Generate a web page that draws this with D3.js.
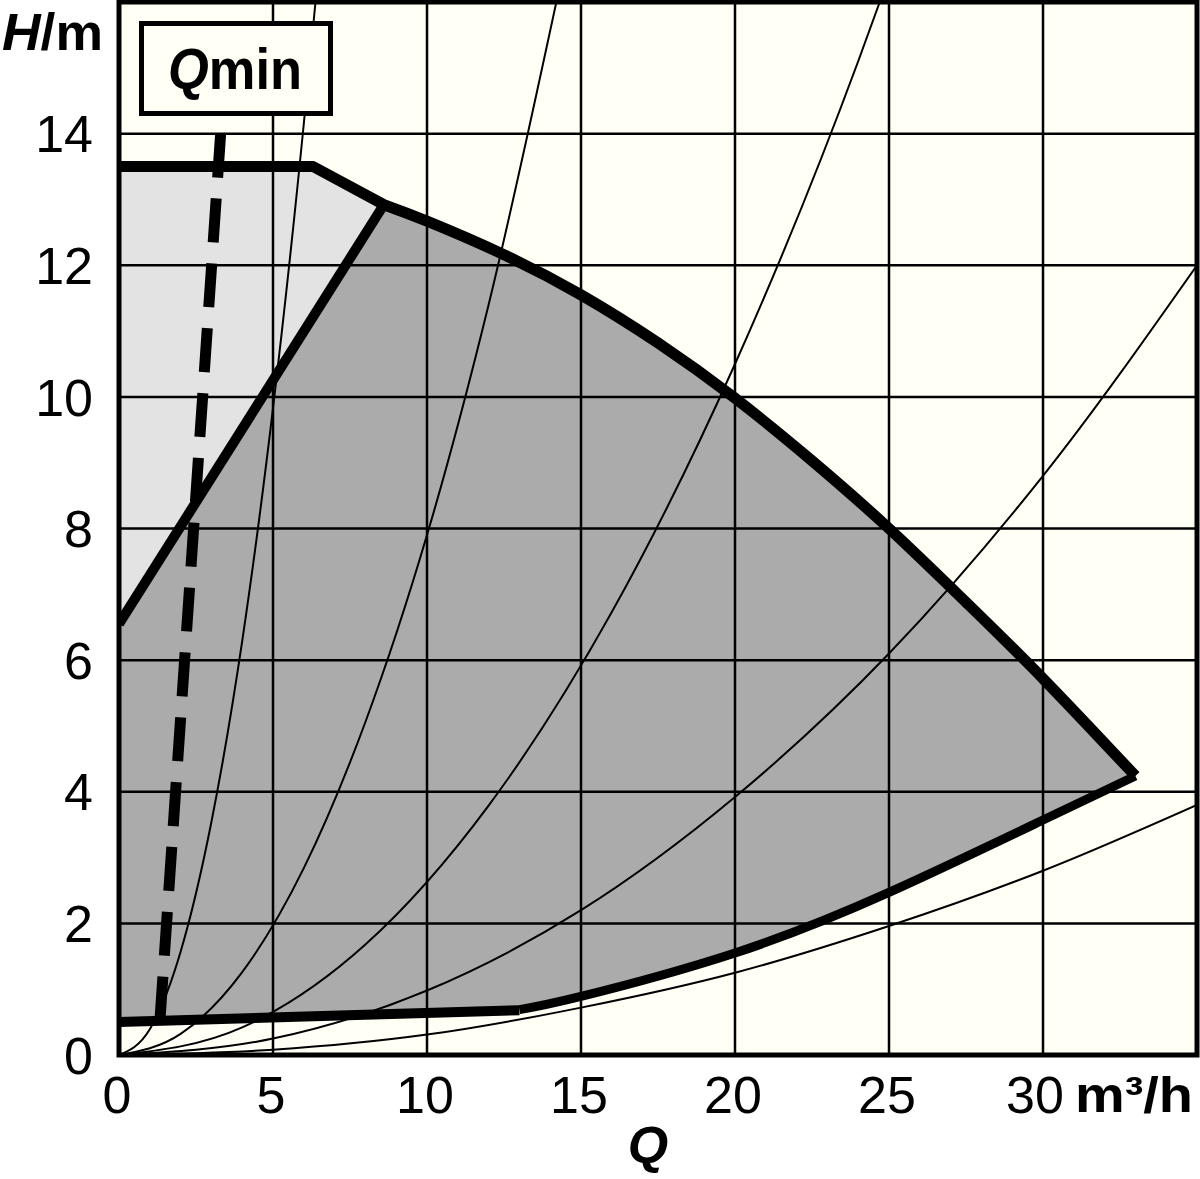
<!DOCTYPE html>
<html>
<head>
<meta charset="utf-8">
<script src="https://cdn.jsdelivr.net/npm/d3@7"></script>
<style>
html,body{margin:0;padding:0;background:#fff;}
svg{display:block;}
text{font-family:"Liberation Sans","DejaVu Sans",sans-serif;fill:#000;}
</style>
</head>
<body>
<svg id="chart" width="1200" height="1179"></svg>
<script>
// ---- data ----
const qTicks = [0, 5, 10, 15, 20, 25, 30];
const hTicks = [0, 2, 4, 6, 8, 10, 12, 14];
const qGrid = [5, 10, 15, 20, 25, 30];
const hGrid = [2, 4, 6, 8, 10, 12, 14];

// system (pipe) curves
const sysA_Q = [0, 1, 2, 3, 4, 5, 6, 6.38];
const sysA_H = [0, 0.39, 1.57, 3.54, 6.29, 9.83, 14.15, 16];
const sysB_Q = [0, 2, 4, 6, 8, 10, 12, 14.2];
const sysB_H = [0, 0.32, 1.26, 2.84, 5.06, 7.9, 11.4, 16];
const sysC_Q = [0, 4, 8, 12, 16, 20, 24, 24.7];
const sysC_H = [0, 0.42, 1.68, 3.79, 6.73, 10.5, 15.1, 16];
const sysD_Q = [0, 5, 10, 15, 20, 25, 30, 35];
const sysD_H = [0, 0.25, 0.98, 2.2, 3.92, 6.1, 8.8, 12.0];
const sysE_Q = [0, 5, 10, 15, 20, 25, 30, 35];
const sysE_H = [0, 0.08, 0.31, 0.72, 1.25, 1.96, 2.8, 3.8];

// operating field boundaries
const topQ = [0, 6.3, 8.6];
const topH = [13.5, 13.5, 12.92];
const diagQ = [0, 8.6];
const diagH = [6.55, 12.92];
const maxQ = [8.6, 10, 12.5, 15, 17.5, 20, 22.5, 25, 27.5, 30, 33];
const maxH = [12.92, 12.67, 12.16, 11.55, 10.82, 9.98, 9.03, 8.0, 6.88, 5.72, 4.24];
const lowQ = [13, 15, 20, 25, 30, 33];
const lowH = [0.69, 0.89, 1.55, 2.47, 3.57, 4.24];
const flatQ = [0, 13];
const flatH = [0.5, 0.68];
const qminQ = [3.3, 1.3];
const qminH = [14.0, 0.33];

const zip = (a, b) => a.map((v, i) => [v, b[i]]);

// ---- layout ----
const svg = d3.select("#chart");
const x = d3.scaleLinear().domain([0, 35]).range([119, 1197]);
const y = d3.scaleLinear().domain([0, 16]).range([1055, 2]);

const cream = "#fffff6";
const light = "#e3e3e3";
const dark = "#ababab";

const nat = d3.curveNatural;
const lineGen = (curve) => d3.line().x(d => x(d[0])).y(d => y(d[1])).curve(curve);

svg.append("defs").append("clipPath").attr("id", "plotclip")
  .append("rect").attr("x", x(0)).attr("y", y(16)).attr("width", x(35) - x(0)).attr("height", y(0) - y(16));

svg.append("rect").attr("x", x(0)).attr("y", y(16)).attr("width", x(35) - x(0)).attr("height", y(0) - y(16)).attr("fill", cream);

const plot = svg.append("g").attr("clip-path", "url(#plotclip)");

// light gray region
const lightPts = [[0, diagH[0]], [0, topH[0]], [topQ[1], topH[1]], [topQ[2], topH[2]]];
plot.append("path").attr("d", lineGen(d3.curveLinearClosed)(lightPts)).attr("fill", light);

// dark gray region
const maxPts = zip(maxQ, maxH);
const lowPts = zip(lowQ, lowH).slice().reverse();
const darkD =
  lineGen(d3.curveLinear)([[flatQ[0], flatH[0]], [diagQ[0], diagH[0]], [diagQ[1], diagH[1]]]) +
  lineGen(nat)(maxPts).replace(/^M/, "L") +
  lineGen(nat)(lowPts).replace(/^M/, "L") +
  lineGen(d3.curveLinear)([[flatQ[1], flatH[1]], [flatQ[0], flatH[0]]]).replace(/^M/, "L") + "Z";
plot.append("path").attr("d", darkD).attr("fill", dark);

// grid
plot.selectAll("line.vg").data(qGrid).enter().append("line")
  .attr("x1", d => x(d)).attr("x2", d => x(d)).attr("y1", y(0)).attr("y2", y(16))
  .attr("stroke", "#000").attr("stroke-width", 2.5);
plot.selectAll("line.hg").data(hGrid).enter().append("line")
  .attr("y1", d => y(d)).attr("y2", d => y(d)).attr("x1", x(0)).attr("x2", x(35))
  .attr("stroke", "#000").attr("stroke-width", 2.5);

// system curves
const sysCurves = [zip(sysA_Q, sysA_H), zip(sysB_Q, sysB_H), zip(sysC_Q, sysC_H), zip(sysD_Q, sysD_H), zip(sysE_Q, sysE_H)];
plot.selectAll("path.sys").data(sysCurves).enter().append("path")
  .attr("d", d => lineGen(d3.curveMonotoneX)(d))
  .attr("fill", "none").attr("stroke", "#000").attr("stroke-width", 2);

// thick boundary lines
const thick = (d, w) => plot.append("path").attr("d", d).attr("fill", "none")
  .attr("stroke", "#000").attr("stroke-width", w).attr("stroke-linejoin", "round");
thick(lineGen(d3.curveLinear)(zip(flatQ, flatH)), 10);
thick(lineGen(nat)(zip(lowQ, lowH)), 9);
thick(lineGen(d3.curveLinear)(zip(diagQ, diagH)), 10);
thick(lineGen(d3.curveLinear)(zip(topQ, topH)) + lineGen(nat)(maxPts).replace(/^M/, "L"), 11);

// Qmin dashed line
svg.append("path").attr("d", lineGen(d3.curveLinear)(zip(qminQ, qminH)))
  .attr("fill", "none").attr("stroke", "#000").attr("stroke-width", 11)
  .attr("stroke-dasharray", "44 21");

// frame
svg.append("rect").attr("x", x(0)).attr("y", y(16)).attr("width", x(35) - x(0)).attr("height", y(0) - y(16))
  .attr("fill", "none").attr("stroke", "#000").attr("stroke-width", 5);

// Qmin box
svg.append("rect").attr("x", 141.5).attr("y", 23.5).attr("width", 189).attr("height", 90)
  .attr("fill", cream).attr("stroke", "#000").attr("stroke-width", 5);
const qt = svg.append("text").attr("x", 168).attr("y", 89)
  .attr("font-size", 58).attr("font-weight", "bold")
  .attr("textLength", 134).attr("lengthAdjust", "spacingAndGlyphs");
qt.append("tspan").attr("font-style", "italic").text("Q");
qt.append("tspan").text("min");

// y tick labels
svg.selectAll("text.yl").data(hTicks).enter().append("text")
  .attr("x", 93).attr("y", d => y(d)).attr("dy", "0.36em")
  .attr("text-anchor", "end").attr("font-size", 52)
  .text(d => d);

// x tick labels
svg.selectAll("text.xl").data(qTicks).enter().append("text")
  .attr("x", d => x(d)).attr("dx", d => d === 30 ? -8 : -2).attr("y", 1113)
  .attr("text-anchor", "middle").attr("font-size", 52)
  .text(d => d);

// axis units / titles
svg.append("text").attr("x", 1075).attr("y", 1112).attr("font-size", 50).attr("font-weight", "bold")
  .attr("textLength", 118).attr("lengthAdjust", "spacingAndGlyphs").text("m³/h");
const hm = svg.append("text").attr("x", 2).attr("y", 50).attr("font-size", 52).attr("font-weight", "bold")
  .attr("textLength", 101).attr("lengthAdjust", "spacingAndGlyphs");
hm.append("tspan").attr("font-style", "italic").text("H");
hm.append("tspan").text("/m");
svg.append("text").attr("x", 648).attr("y", 1163).attr("text-anchor", "middle")
  .attr("font-size", 52).attr("font-weight", "bold").attr("font-style", "italic").text("Q");
</script>
</body>
</html>
